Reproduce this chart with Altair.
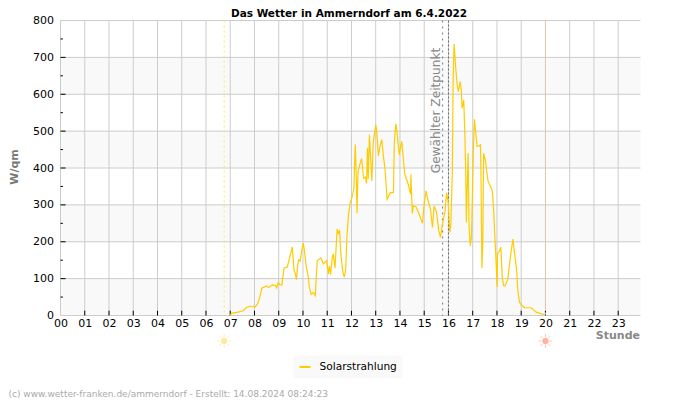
import altair as alt
import pandas as pd

hours = [7.0,7.05,7.33,7.54,7.65,7.81,8.02,8.13,8.22,8.30,8.50,8.59,8.73,8.86,8.91,8.98,9.05,9.13,9.22,9.35,9.42,9.56,9.63,9.69,9.73,9.78,9.82,9.88,9.95,10.01,10.05,10.12,10.22,10.26,10.34,10.43,10.51,10.54,10.59,10.74,10.84,10.98,11.05,11.09,11.14,11.21,11.25,11.32,11.41,11.45,11.51,11.56,11.64,11.70,11.76,11.81,11.88,11.95,
12.00,12.05,12.10,12.14,12.16,12.20,12.23,12.27,12.38,12.42,12.50,12.58,12.62,12.66,12.69,12.74,12.84,12.90,13.00,13.04,13.11,13.18,13.25,13.32,13.38,13.47,13.60,13.73,13.77,13.83,13.86,13.93,13.97,14.07,14.16,14.20,14.34,14.44,14.45,14.51,14.55,14.66,14.79,14.93,14.99,15.08,15.16,15.26,15.34,15.41,15.51,15.60,15.67,15.75,15.85,15.92,15.99,16.06,16.10,16.16,16.19,16.23,16.26,16.30,16.36,16.41,16.48,16.53,16.56,16.63,16.67,16.71,16.74,16.77,16.81,16.85,16.90,16.95,17.03,17.07,17.14,17.18,17.26,17.32,17.34,17.38,17.42,17.45,17.53,17.56,17.63,17.81,17.87,17.90,17.95,17.99,18.01,18.02,18.10,18.16,18.22,18.27,18.34,18.45,18.52,18.59,18.66,18.73,18.82,18.86,18.93,19.03,19.14,19.41,19.62,19.96]
watts = [0,6,9,13,21,25,23,32,50,74,80,76,83,82,75,90,83,83,129,131,149,186,122,113,97,135,151,147,176,196,181,140,104,77,57,62,54,95,149,156,140,149,113,135,111,158,167,128,235,222,231,167,120,104,122,212,275,307,
315,329,345,433,464,370,277,390,418,425,372,375,358,455,370,490,365,470,517,500,433,460,477,430,400,315,333,333,472,520,508,463,436,472,411,383,356,329,383,277,297,295,275,250,297,338,311,288,239,297,279,230,212,248,279,333,306,225,248,392,625,736,711,670,625,607,634,612,562,585,504,400,252,338,440,239,189,216,454,532,486,459,460,463,392,128,212,440,418,400,365,338,279,230,167,104,77,167,175,185,104,81,81,99,140,176,207,167,117,68,36,27,21,21,9,2]

band_lo = [0,200,400,600]
band_hi = [100,300,500,700]
hour_ticks = list(range(24))
y_major = [0,100,200,300,400,500,600,700,800]
y_inner = [100,200,300,400,500,600,700]
y_minor = [50,150,250,350,450,550,650,750]
sun_hours = [6.75,20.0]
sun_colors = ["#fde9a0","#ffb3a3"]

X = alt.Scale(domain=[0,23.92], nice=False, zero=False)
Y = alt.Scale(domain=[0,800], nice=False)
x_ax = alt.Axis(values=hour_ticks, labelExpr="format(datum.value,'02d')", tickSize=0, domain=False, grid=False,
                labelFontSize=11, labelColor="#000", labelPadding=2, labelFlush=False, labelOverlap=False,
                title="Stunde", titleFontSize=11, titleFontWeight="bold", titleColor="#888",
                titleAnchor="end", titleAlign="right", titleX=579, titleY=20, titleBaseline="middle")
y_ax = alt.Axis(values=y_major, tickSize=0, domain=False, grid=False, labelFontSize=11, labelColor="#000", labelPadding=7,
                title="W/qm", titleFontSize=11, titleFontWeight="bold", titleColor="#777", titleX=-46.5, titleY=146, titleBaseline="middle")

bands = alt.Chart(pd.DataFrame({"a":band_lo,"b":band_hi})).mark_rect(color="#f9f9f9").encode(
    y=alt.Y("a:Q",scale=Y,axis=y_ax), y2="b:Q")
vgrid = alt.Chart(pd.DataFrame({"h":hour_ticks})).mark_rule(color="#cccccc",strokeWidth=1).encode(
    x=alt.X("h:Q",scale=X,axis=x_ax))
hgrid = alt.Chart(pd.DataFrame({"v":y_major})).mark_rule(color="#cccccc",strokeWidth=1).encode(y=alt.Y("v:Q",scale=Y,axis=y_ax))

xt = pd.DataFrame({"h":hour_ticks[1:],"a":[0]*23,"b":[13]*23})
xticks = alt.Chart(xt).mark_rule(color="#000",strokeWidth=1).encode(x=alt.X("h:Q",scale=X,axis=x_ax),y=alt.Y("a:Q",scale=Y,axis=y_ax),y2="b:Q")
yt = pd.DataFrame({"v":y_inner,"a":[0]*7,"b":[0.21]*7})
yticks = alt.Chart(yt).mark_rule(color="#000",strokeWidth=1).encode(y=alt.Y("v:Q",scale=Y,axis=y_ax),x=alt.X("a:Q",scale=X,axis=x_ax),x2="b:Q")
ym = pd.DataFrame({"v":y_minor,"a":[0]*8,"b":[0.1]*8})
yminor = alt.Chart(ym).mark_rule(color="#000",strokeWidth=1).encode(y=alt.Y("v:Q",scale=Y,axis=y_ax),x=alt.X("a:Q",scale=X,axis=x_ax),x2="b:Q")

def vrule(h,color,dash):
    return alt.Chart(pd.DataFrame({"h":[h]})).mark_rule(color=color,strokeWidth=1,strokeDash=dash).encode(x=alt.X("h:Q",scale=X,axis=x_ax))

line = alt.Chart(pd.DataFrame({"h":hours,"w":watts,"s":["Solarstrahlung"]*len(hours)})).mark_line(strokeWidth=1.2).encode(
    x=alt.X("h:Q",scale=X,axis=x_ax),
    y=alt.Y("w:Q",scale=Y,axis=y_ax),
    color=alt.Color("s:N",scale=alt.Scale(domain=["Solarstrahlung"],range=["#ffcc00"]),
        legend=alt.Legend(title=None,orient="none",legendX=233,legendY=335,fillColor="#f9f9f9",padding=5,
                          labelFontSize=10.6,labelColor="#000",symbolType="stroke",symbolSize=120,symbolStrokeWidth=2,labelOffset=8,rowPadding=0)))

note = alt.Chart(pd.DataFrame({"h":[15.5],"v":[556],"t":["Gewählter Zeitpunkt"]})).mark_text(angle=270,fontSize=12.2,color="#888",align="center",baseline="middle").encode(
    x=alt.X("h:Q",scale=X,axis=x_ax),y=alt.Y("v:Q",scale=Y,axis=y_ax),text="t:N")

sun = pd.DataFrame({"h":sun_hours,"c":sun_colors})
disc = alt.Chart(sun).mark_point(filled=True,size=40,shape="circle",opacity=1).encode(
    x=alt.X("h:Q",scale=X,axis=x_ax),y=alt.value(320.5),color=alt.Color("c:N",scale=None,legend=None))
rays = alt.Chart(sun).mark_point(filled=False,size=190,strokeWidth=1,opacity=0.8,
    shape="M0,-1L0,-0.6M0,1L0,0.6M-1,0L-0.6,0M1,0L0.6,0M-0.7,-0.7L-0.45,-0.45M0.7,0.7L0.45,0.45M-0.7,0.7L-0.45,0.45M0.7,-0.7L0.45,-0.45").encode(
    x=alt.X("h:Q",scale=X,axis=x_ax),y=alt.value(320.5),color=alt.Color("c:N",scale=None,legend=None))

foot = alt.Chart(pd.DataFrame({"t":["(c) www.wetter-franken.de/ammerndorf - Erstellt: 14.08.2024 08:24:23"]})).mark_text(
    fontSize=9,color="#aaaaaa",align="left",baseline="middle").encode(x=alt.value(-52),y=alt.value(373),text="t:N")

head = alt.Chart(pd.DataFrame({"t":["Das Wetter in Ammerndorf am 6.4.2022"]})).mark_text(
    fontSize=10.5,fontWeight="bold",color="#000",align="center",baseline="alphabetic").encode(x=alt.value(288.5),y=alt.value(-3.5),text="t:N")

chart = alt.layer(bands,vgrid,hgrid,xticks,yticks,yminor,
    vrule(6.75,"#ffe94d",[2,3]),vrule(20.0,"#f5c090",[2,2]),vrule(15.76,"#777777",[2,4]),vrule(16.0,"#666666",[2,2]),
    note,line,disc,rays,foot,head).resolve_scale(color="independent").properties(
    width=580,height=295,
    padding={"left":52.5,"top":12.5,"right":51.5,"bottom":84.5},
    autosize=alt.AutoSizeParams(type="none")
).configure(font="DejaVu Sans").configure_view(stroke=None)

chart.save("out.html", embed_options={"renderer": "svg", "actions": False})
